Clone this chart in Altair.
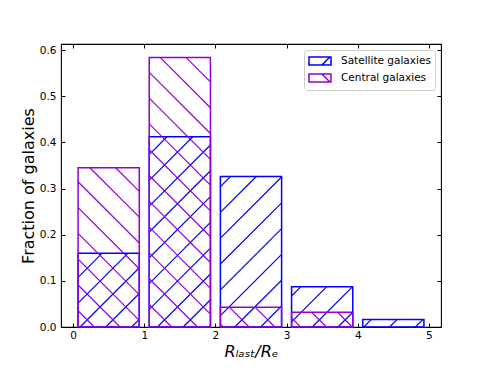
import math
import altair as alt
import pandas as pd

# ---------------- data ----------------
bin_left = [0, 1, 2, 3, 4]
satellite = [0.160, 0.412, 0.326, 0.087, 0.016]
central = [0.345, 0.584, 0.043, 0.032, 0.0]
series_names = ["Satellite galaxies", "Central galaxies"]
series_colors = ["#0000ff", "#9400d3"]
x_ticks = [0, 1, 2, 3, 4, 5]
y_ticks = [0.0, 0.1, 0.2, 0.3, 0.4, 0.5, 0.6]

# ---------------- layout / style constants ----------------
W, H = 380, 283
XMIN, XMAX = -0.17, 5.17
YMAX = 0.613
SX = W / (XMAX - XMIN)
SY = H / YMAX
BAR_PAD = 0.07
HATCH = 25.8
FONT = "DejaVu Sans"


def bar_frame(values):
    rows = []
    for lo, v in zip(bin_left, values):
        if v > 0:
            rows.append(dict(x=lo + BAR_PAD, x2=lo + 1 - BAR_PAD, y=v, y2=0.0))
    return pd.DataFrame(rows)


def hatch_frame(values, direction, phase):
    """Diagonal hatch segments clipped to each bar (computed in pixel space)."""
    rows = []
    for lo, v in zip(bin_left, values):
        if v <= 0:
            continue
        u0 = (lo + BAR_PAD - XMIN) * SX
        u1 = (lo + 1 - BAR_PAD - XMIN) * SX
        h = v * SY
        if direction > 0:  # '/' : u - w = c
            cmin, cmax = u0 - h, u1
        else:  # '\' : u + w = c
            cmin, cmax = u0, u1 + h
        k = math.ceil((cmin - phase) / HATCH)
        c = phase + k * HATCH
        while c < cmax:
            if direction > 0:
                a, b = max(u0, c), min(u1, c + h)
                wa, wb = a - c, b - c
            else:
                a, b = max(u0, c - h), min(u1, c)
                wa, wb = c - a, c - b
            if b - a > 0.8:
                rows.append(dict(x=XMIN + a / SX, y=wa / SY,
                                 x2=XMIN + b / SX, y2=wb / SY))
            c += HATCH
    return pd.DataFrame(rows)


xscale = alt.Scale(domain=[XMIN, XMAX], nice=False, zero=False)
yscale = alt.Scale(domain=[0, YMAX], nice=False, zero=False)

x_axis = alt.Axis(values=x_ticks, format="d", title="Rₗₐₛₜ/Rₑ",
                  titleFontStyle="italic", titleFontSize=16, titleFontWeight="normal",
                  titleFont=FONT, titlePadding=3, labelPadding=3, tickSize=4,
                  offset=-4, domain=False, grid=False, labelFontSize=10.5,
                  labelFont=FONT, labelColor="black", tickColor="black",
                  titleColor="black")
y_axis = alt.Axis(values=y_ticks, format=".1f", title="Fraction of galaxies",
                  titleFontSize=16, titleFontWeight="normal", titleFont=FONT,
                  titlePadding=3, labelPadding=5, tickSize=4, offset=-4,
                  domain=False, grid=False, labelFontSize=10.5, labelFont=FONT,
                  labelColor="black", tickColor="black", titleColor="black")
x_top = alt.Axis(orient="top", values=x_ticks, labels=False, title=None,
                 tickSize=4, offset=-4, domain=False, grid=False, tickColor="black")
y_right = alt.Axis(orient="right", values=y_ticks, labels=False, title=None,
                   tickSize=4, offset=-4, domain=False, grid=False, tickColor="black")


def hatch_layer(values, direction, phase, color, axes=False):
    df = hatch_frame(values, direction, phase)
    return alt.Chart(df).mark_rule(color=color, strokeWidth=1.2).encode(
        x=alt.X("x:Q", scale=xscale, axis=x_axis if axes else None),
        y=alt.Y("y:Q", scale=yscale, axis=y_axis if axes else None),
        x2="x2:Q", y2="y2:Q")


def bar_layer(values, color):
    df = bar_frame(values)
    return alt.Chart(df).mark_rect(fillOpacity=0, fill="white", stroke=color,
                                   strokeWidth=1.5).encode(
        x=alt.X("x:Q", scale=xscale, axis=None), x2="x2:Q",
        y=alt.Y("y:Q", scale=yscale, axis=None), y2="y2:Q")


# legend handles: rectangle with one hatch stroke
path_sat = "M-1,-0.667L2.667,-0.667L2.667,0.667L-1,0.667Z M1.15,0.667L2.48,-0.667"
path_cen = "M-1,-0.667L2.667,-0.667L2.667,0.667L-1,0.667Z M1.15,-0.667L2.48,0.667"

legend_df = pd.DataFrame({"series": series_names,
                          "x": [XMIN - 1] * 2, "y": [0.0] * 2})
legend_layer = alt.Chart(legend_df).mark_point(filled=False, clip=True,
                                               strokeWidth=1.5).encode(
    x=alt.X("x:Q", scale=xscale, axis=x_top),
    y=alt.Y("y:Q", scale=yscale, axis=y_right),
    color=alt.Color("series:N", title=None,
                    scale=alt.Scale(domain=series_names, range=series_colors)),
    shape=alt.Shape("series:N", title=None,
                    scale=alt.Scale(domain=series_names, range=[path_sat, path_cen])),
)

chart = alt.layer(
    hatch_layer(satellite, +1, 19.0, series_colors[0], axes=True),
    bar_layer(satellite, series_colors[0]),
    hatch_layer(central, -1, 7.5, series_colors[1]),
    bar_layer(central, series_colors[1]),
    legend_layer,
).resolve_axis(x="independent", y="independent").properties(
    width=W, height=H,
    autosize=alt.AutoSizeParams(type="none"),
    padding={"left": 53, "top": 36, "right": 40, "bottom": 41},
).configure_view(
    stroke="black", strokeWidth=1.1
).configure_legend(
    orient="top-right", offset=6, padding=4, strokeColor="#cccccc",
    fillColor="white", cornerRadius=3, labelFontSize=10.5, labelFont=FONT,
    labelColor="black", symbolSize=144, symbolStrokeWidth=1.5,
    labelOffset=19, rowPadding=1, symbolOpacity=1,
)

chart.save("out.html", embed_options={"renderer": "svg", "actions": False})
